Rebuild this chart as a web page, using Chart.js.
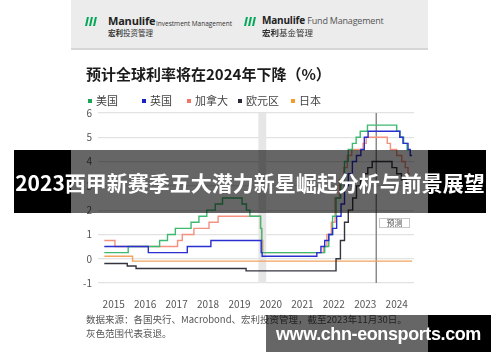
<!DOCTYPE html>
<html><head><meta charset="utf-8">
<script src="https://cdn.jsdelivr.net/npm/chart.js@4/dist/chart.umd.min.js"></script>
<style>
html,body{margin:0;padding:0;background:#fff;}
body{width:500px;height:362px;position:relative;overflow:hidden;font-family:"Noto Sans CJK SC","Noto Sans",sans-serif;}
.abs{position:absolute;white-space:nowrap;}
#cv{position:absolute;left:0;top:0;}
.bar{position:absolute;width:2px;height:9px;background:#00a758;transform:skewX(-12deg);}
.sq{display:inline-block;width:4px;height:4px;margin-right:4px;vertical-align:middle;position:relative;top:-1px;}
</style></head>
<body>
<canvas id="cv" width="500" height="362"></canvas>

<!-- header -->
<div class="abs" style="left:71px;top:0;width:357px;height:48px;background:#ececec;border-bottom:2px solid #d6d6d6;"></div>
<div class="bar" style="left:86px;top:17px"></div><div class="bar" style="left:90px;top:17px"></div><div class="bar" style="left:94px;top:17px"></div>
<div class="abs" style="left:108px;top:15px;font:bold 11px 'Open Sans';color:#222;line-height:11px;letter-spacing:-0.2px">Manulife</div>
<div class="abs" style="left:156px;top:20px;font:6.5px 'Open Sans';color:#333;line-height:7px">Investment Management</div>
<div class="abs" style="left:108px;top:28.5px;font:7.5px 'Noto Sans CJK SC';color:#333;line-height:7.5px"><b>宏利</b>投资管理</div>
<div class="bar" style="left:245px;top:17px"></div><div class="bar" style="left:249px;top:17px"></div><div class="bar" style="left:253px;top:17px"></div>
<div class="abs" style="left:262px;top:15px;font:bold 10px 'Open Sans';color:#222;line-height:10px;letter-spacing:-0.2px">Manulife <span style="font-weight:normal;color:#555;font-size:9px">Fund Management</span></div>
<div class="abs" style="left:262px;top:27.5px;font:8.5px 'Noto Sans CJK SC';color:#333;line-height:8.5px"><b>宏利</b>基金管理</div>

<!-- title -->
<div class="abs" style="left:86px;top:66px;font:bold 15px 'Noto Sans CJK SC';color:#1a1a1a;line-height:15px">预计全球利率将在2024年下降（%）</div>
<div id="legend"></div>

<!-- forecast tag -->
<div class="abs" style="left:379px;top:218px;width:29px;height:8px;border:1px solid #c8c8c8;background:#fff;font:8px 'Noto Sans CJK SC';color:#555;line-height:8px;text-align:center">预测</div>

<!-- source -->
<div class="abs" style="left:86px;top:313.5px;font:9.5px 'Noto Sans CJK SC';color:#555;line-height:10px">数据来源：各国央行、Macrobond、宏利投资管理，截至2023年11月30日。</div>
<div class="abs" style="left:86px;top:327.5px;font:9.5px 'Noto Sans CJK SC';color:#555;line-height:10px">灰色范围代表衰退。</div>

<!-- overlays -->
<div class="abs" style="left:14px;top:150px;width:57px;height:63px;background:#000"></div>
<div class="abs" style="left:71px;top:150px;width:357px;height:63px;background:rgba(0,0,0,0.6)"></div>
<div class="abs" style="left:428px;top:150px;width:58px;height:63px;background:#000"></div>
<div class="abs" style="left:14px;top:172px;width:472px;text-align:center;font:bold 21px 'Noto Sans CJK SC';color:#fff;line-height:21px">2023西甲新赛季五大潜力新星崛起分析与前景展望</div>

<div class="abs" style="left:266px;top:315px;width:162px;height:37px;background:rgba(0,0,0,0.6)"></div>
<div class="abs" style="left:428px;top:315px;width:63px;height:37px;background:#000"></div>
<div class="abs" style="left:276px;top:324px;font:bold 18px 'Liberation Sans';color:#fff;line-height:20px;letter-spacing:-0.4px">www.chn-eonsports.com</div>

<script>
// ---- data (decimal year of change, new rate) ----
const seriesNames = ['美国','英国','加拿大','欧元区','日本'];
const seriesColors = ['#3dba6f','#2a2fd0','#f4917f','#34343f','#f2a35e'];
const legendColors = ['#1fa355','#1b22c4','#f07565','#2a2a3a','#f39c2b'];

const usDates   = [2015.2,2015.96,2016.96,2017.21,2017.46,2017.96,2018.21,2018.46,2018.73,2018.96,2019.58,2019.72,2019.83,2020.17,2020.21,2022.21,2022.34,2022.46,2022.57,2022.72,2022.84,2022.96,2023.09,2023.21,2023.34,2023.57,2024.5,2024.6,2024.72,2024.83,2024.9];
const usRates   = [0.25,0.5,0.75,1.0,1.25,1.5,1.75,2.0,2.25,2.5,2.25,2.0,1.75,1.25,0.25,0.5,1.0,1.75,2.5,3.25,4.0,4.5,4.75,5.0,5.25,5.5,5.25,5.0,4.75,4.5,4.5];

const ukDates   = [2015.2,2016.6,2017.84,2018.59,2020.19,2020.22,2021.96,2022.09,2022.21,2022.34,2022.46,2022.59,2022.73,2022.84,2022.96,2023.09,2023.22,2023.36,2023.47,2023.59,2024.6,2024.7,2024.86,2024.93,2024.99];
const ukRates   = [0.5,0.25,0.5,0.75,0.25,0.1,0.25,0.5,0.75,1.0,1.25,1.75,2.25,3.0,3.5,4.0,4.25,4.5,5.0,5.25,5.0,4.75,4.5,4.25,4.25];

const caDates   = [2015.2,2015.54,2017.53,2017.68,2018.05,2018.53,2018.82,2020.17,2020.2,2020.24,2022.17,2022.28,2022.42,2022.54,2022.68,2022.82,2022.93,2023.07,2023.43,2023.53,2024.2,2024.3,2024.5,2024.66,2024.77,2024.86,2024.92];
const caRates   = [0.75,0.5,0.75,1.0,1.25,1.5,1.75,1.25,0.75,0.25,0.5,1.0,1.5,2.5,3.25,3.75,4.25,4.5,4.75,5.0,4.75,4.5,4.25,4.0,3.75,3.5,3.5];

const euDates   = [2015.2,2015.93,2016.21,2019.71,2022.57,2022.71,2022.84,2022.96,2023.1,2023.22,2023.35,2023.47,2023.58,2023.72,2024.35,2024.5,2024.65,2024.8,2024.88];
const euRates   = [-0.2,-0.3,-0.4,-0.5,0.0,0.75,1.5,2.0,2.5,3.0,3.25,3.5,3.75,4.0,3.75,3.5,3.25,3.0,3.0];

const jpDates   = [2015.2,2016.1,2024.99];
const jpRates   = [0.1,-0.1,-0.1];

const xTickYears = [2015,2016,2017,2018,2019,2020,2021,2022,2023,2024];
const xTickLabels = ['2015','2016','2017','2018','2019','2020','2021','2022','2023','2024'];
const recession = [2020.1, 2020.35];
const nowMark = 2023.85;

// ---- legend (HTML) ----
const legendX = [88,142,187,238,291];
const lg = document.getElementById('legend');
seriesNames.forEach((n,i)=>{
  const d=document.createElement('div');
  d.className='abs';
  d.style.cssText=`left:${legendX[i]}px;top:95px;font:11px 'Noto Sans CJK SC';color:#444;line-height:11px`;
  d.innerHTML=`<span class="sq" style="background:${legendColors[i]}"></span>${n}`;
  lg.appendChild(d);
});

const toPts=(xs,ys)=>xs.map((x,i)=>({x:x,y:ys[i]}));
const allDates=[usDates,ukDates,caDates,euDates,jpDates];
const allRates=[usRates,ukRates,caRates,euRates,jpRates];
const orders=[1,0,2,3,4];

const bgPlugin={
  id:'bg',
  beforeDatasetsDraw(chart){
    const {ctx,chartArea:a,scales:{x}}=chart;
    ctx.save();
    const x0=x.getPixelForValue(recession[0]), x1=x.getPixelForValue(recession[1]);
    ctx.fillStyle='#e6e6e6';
    ctx.fillRect(x0,a.top,x1-x0,a.bottom-a.top);
    const xn=x.getPixelForValue(nowMark);
    ctx.strokeStyle='#8a8a8a';ctx.lineWidth=1.5;
    ctx.beginPath();ctx.moveTo(xn,a.top);ctx.lineTo(xn,a.bottom);ctx.stroke();
    ctx.restore();
  }
};

new Chart(document.getElementById('cv'),{
  type:'line',
  data:{datasets:seriesNames.map((n,i)=>({
    label:n,data:toPts(allDates[i],allRates[i]),borderColor:seriesColors[i],
    borderWidth:1.4,pointRadius:0,stepped:'before',fill:false,order:orders[i]
  }))},
  options:{
    responsive:false,animation:false,
    layout:{padding:{left:0,right:86,top:113,bottom:0}},
    plugins:{legend:{display:false},tooltip:{enabled:false}},
    scales:{
      x:{type:'linear',min:2015,max:2025.05,
        afterBuildTicks:s=>{s.ticks=xTickYears.map(y=>({value:y+0.5}));},
        afterFit:s=>{s.height=79;},
        grid:{display:false},border:{display:false},
        ticks:{padding:7,color:'#555',font:{family:'Noto Sans CJK SC',size:10},
          callback:(v)=>xTickLabels[xTickYears.indexOf(Math.floor(v))]}},
      y:{min:-1,max:6,afterFit:s=>{s.width=98;},
        grid:{color:'#e2e2e2',lineWidth:1.2,drawTicks:false},border:{display:false},
        ticks:{stepSize:1,padding:6,color:'#555',font:{family:'Noto Sans CJK SC',size:10}}}
    }
  },
  plugins:[bgPlugin]
});
</script>
</body></html>
